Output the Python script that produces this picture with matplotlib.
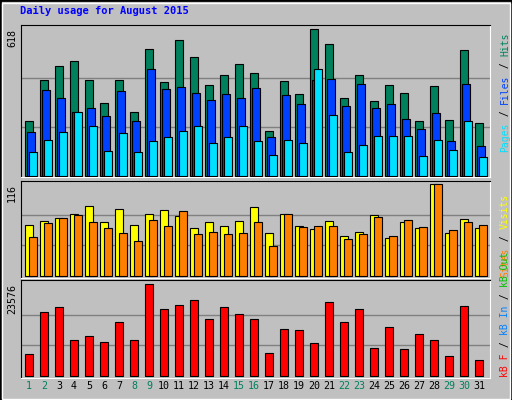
import matplotlib.pyplot as plt
import numpy as np
from matplotlib.patches import Rectangle

days = list(range(1, 32))
weekend = [1, 2, 8, 9, 15, 16, 22, 23, 29, 30]

hits = [230, 403, 462, 483, 403, 306, 403, 268, 534, 395, 572, 500, 382, 424, 471, 433,
        188, 399, 344, 618, 555, 327, 424, 315, 382, 348, 230, 378, 235, 530, 222]
files = [184, 361, 327, 268, 285, 251, 357, 230, 449, 365, 374, 348, 319, 344, 327, 369,
         163, 340, 302, 403, 407, 294, 386, 285, 302, 239, 197, 264, 146, 386, 129]
pages = [104, 154, 184, 268, 209, 108, 180, 100, 146, 163, 188, 213, 138, 163, 209, 146,
         91, 154, 138, 449, 256, 104, 133, 167, 167, 167, 87, 154, 112, 230, 83]
visits = [64, 69, 73, 78, 88, 68, 84, 64, 78, 83, 76, 61, 68, 63, 69, 87,
          54, 78, 63, 59, 69, 50, 55, 77, 48, 68, 61, 116, 54, 72, 61]
sites = [49, 67, 73, 77, 68, 61, 54, 44, 71, 63, 82, 53, 55, 53, 54, 68,
         38, 78, 62, 63, 63, 47, 53, 74, 50, 71, 62, 116, 58, 68, 64]
kbytes = [5507, 16348, 17638, 9120, 10153, 8604, 13767, 9120, 23576, 17122, 18155, 19445,
          14541, 17638, 15831, 14541, 5765, 11960, 11701, 8346, 18929, 13767, 17122, 7055,
          12476, 6797, 10669, 9120, 4990, 17896, 3958]

W, H = 512, 400
BG = '#C0C0C0'
fig = plt.figure(figsize=(5.12, 4.0), dpi=100, facecolor=BG)
fig.patches.append(Rectangle((0, 0), 1, 1, transform=fig.transFigure, fill=False,
                             edgecolor='black', lw=2))
fig.patches.append(Rectangle((1.5/W, 1.5/H), 1-4/W, 1-4/H, transform=fig.transFigure,
                             fill=False, edgecolor='white', lw=1))
mono = 'DejaVu Sans Mono'

def panel(top, bottom):
    ax = fig.add_axes([21/W, 1-bottom/H, 469/W, (bottom-top)/H])
    ax.set_facecolor(BG)
    ax.set_xlim(0.5, 0.5 + 469/15)
    ax.set_xticks([])
    ax.set_yticks([])
    for s in ax.spines.values():
        s.set_color('black')
    for s in ('right', 'bottom'):
        ax.spines[s].set_color('white')
    return ax

x = np.array(days, dtype=float)
kw = dict(align='edge', edgecolor='black', linewidth=0.8, zorder=3)

# top panel
ax1 = panel(25, 177)
ax1.set_ylim(-3, 618 * 151 / 147)
for g in (206, 412):
    ax1.axhline(g, color='#808080', lw=1, zorder=1)
ax1.bar(x - 0.21, hits, 0.49, color='#00805C', **kw)
ax1.bar(x - 0.08, files, 0.49, color='#0040FF', **kw)
ax1.bar(x + 0.05, pages, 0.49, color='#00E0FF', **kw)

# middle panel
ax2 = panel(181, 278)
ax2.set_ylim(-116 * 2 / 92, 116 * 95 / 92)
for g in (38.7, 77.3):
    ax2.axhline(g, color='#808080', lw=1, zorder=1)
ax2.bar(x - 0.21, visits, 0.53, color='#FFFF00', **kw)
ax2.bar(x + 0.05, sites, 0.49, color='#FF8000', **kw)

# bottom panel
ax3 = panel(280, 378)
ax3.set_ylim(-23576 * 2.3 / 91.4, 23576 * 95.7 / 91.4)
for g in (7859, 15717):
    ax3.axhline(g, color='#808080', lw=1, zorder=1)
ax3.bar(x - 0.21, kbytes, 0.49, color='#FF0000', **kw)

for d in days:
    ax3.text(d + 0.03, -0.035, str(d), transform=ax3.get_xaxis_transform(), ha='center',
             va='top', fontsize=7.2, family=mono,
             color='#00805C' if d in weekend else 'black')

fig.text(20/W, 1-14/H, 'Daily usage for August 2015', color='#0000FF', fontsize=7.5,
         family=mono, weight='bold', va='baseline')

for txt, y in (('618', 29), ('116', 184), ('23576', 284)):
    fig.text(17/W, 1-y/H, txt, rotation=90, ha='right', va='top', fontsize=7.2, family=mono)

def right_label(parts, y_bottom):
    # draw colored pieces upward from y_bottom, one monospace cell = 6 px
    y = y_bottom
    for s, c in parts:
        fig.text(508/W, 1-y/H, s, rotation=90, rotation_mode='anchor', ha='left',
                 va='baseline', fontsize=7.0, family=mono, color=c)
        y -= 6.0 * len(s)

right_label([('Pages', '#00E0FF'), (' / ', 'black'), ('Files', '#0040FF'), (' / ', 'black'),
             ('Hits', '#00805C')], 152)
right_label([('Sites', '#FF8000'), (' / ', 'black'), ('Visits', '#FFFF00')], 277)
right_label([('kB F', '#FF0000'), (' / ', 'black'), ('kB In', '#0080FF'), (' / ', 'black'),
             ('kB Out', '#00C000')], 377)

fig.savefig('out.png', dpi=100, facecolor=BG)
